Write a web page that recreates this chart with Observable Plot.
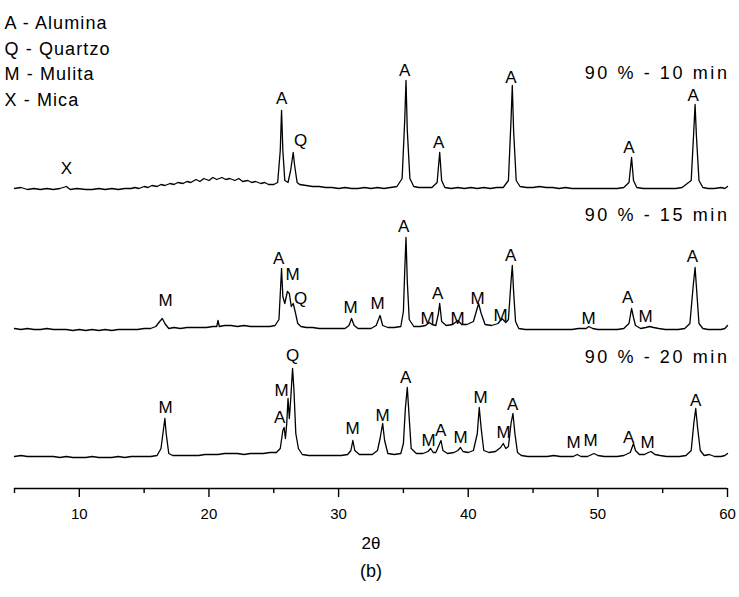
<!DOCTYPE html>
<html>
<head>
<meta charset="utf-8">
<script src="https://cdn.jsdelivr.net/npm/d3@7"></script>
<script src="https://cdn.jsdelivr.net/npm/@observablehq/plot@0.6"></script>
<style>
  html, body { margin: 0; padding: 0; background: #fff; }
  #chart svg { font-family: "Liberation Sans", Arial, sans-serif; }
</style>
</head>
<body>
<div id="chart"></div>
<script>
// ---- data ----
const seriesNames = ["90 % - 10 min", "90 % - 15 min", "90 % - 20 min"];
const seriesOffsets = [298, 157, 30];
const seriesLabelHeights = [117, 116, 101];
const legendLines = ["A - Alumina", "Q - Quartzo", "M - Mulita", "X - Mica"];
const xTicks = [10, 20, 30, 40, 50, 60];
const xMinorTicks = [5, 15, 25, 35, 45, 55];

// [2theta, intensity above own baseline]
const trace10 = [
  [5.0,2],[5.5,3],[6.0,1],[6.5,2],[7.0,1],[7.5,2],[8.0,1],[8.5,2],[9.0,4],[9.3,1],[9.8,2],[10.5,1],
  [11,1],[11.5,2],[12,1],[12.5,2],[13,1],[13.5,2],[14,2],[14.3,3],[14.6,2],[15,4],[15.3,3],[15.6,5],
  [16,4],[16.3,6],[16.6,5],[17,7],[17.3,6],[17.6,8],[18,7],[18.3,9],[18.6,8],[19,11],[19.3,9],[19.6,12],
  [20,10],[20.3,13],[20.6,11],[21,13],[21.3,11],[21.6,12],[22,10],[22.3,12],[22.6,9],[23,10],[23.3,8],
  [23.6,9],[24,7],[24.3,8],[24.6,6],[25,6],[25.3,8],[25.5,40],[25.6,80],[25.7,40],[25.85,10],
  [26.1,8],[26.3,20],[26.5,38],[26.6,26],[26.8,8],[27,6],[27.5,5],[28,4],[28.5,4],[29,3],[29.5,3],
  [30,2],[30.5,3],[31,2],[31.5,2],[32,3],[32.5,2],[33,3],[33.5,2],[34,3],[34.5,4],[34.9,12],[35.1,70],
  [35.2,110],[35.3,60],[35.5,12],[35.8,4],[36.2,3],[36.7,3],[37.2,3],[37.6,8],[37.8,38],[37.95,10],
  [38.2,3],[38.7,2],[39.2,3],[39.7,2],[40.2,3],[40.7,2],[41.2,3],[41.7,2],[42.2,3],[42.7,3],[43.1,10],
  [43.3,70],[43.4,105],[43.5,60],[43.7,10],[44,4],[44.5,3],[45,3],[45.5,4],[46,3],[46.5,3],[47,2],
  [47.5,3],[48,2],[48.5,2],[49,2],[49.5,2],[50,2],[50.5,2],[51,2],[51.5,2],[52,3],[52.4,8],[52.6,33],
  [52.75,10],[53,3],[53.5,2],[54,2],[54.5,2],[55,2],[55.5,2],[56,2],[56.5,3],[57.2,10],[57.4,60],
  [57.5,86],[57.6,55],[57.8,10],[58.1,3],[58.5,2],[59,2],[59.5,3],[59.8,2],[60,4]
];
const trace15 = [
  [5,3],[5.5,2],[6,3],[6.5,2],[7,2],[7.5,3],[8,2],[8.5,2],[9,2],[9.5,1],[10,2],[10.5,1],[11,2],
  [11.5,1],[12,2],[12.5,1],[13,2],[13.5,2],[14,2],[14.5,2],[15,3],[15.5,3],[15.9,5],[16.2,10],
  [16.4,13],[16.6,8],[16.9,3],[17.3,4],[17.8,3],[18.3,4],[18.8,4],[19.3,4],[19.8,4],[20.3,5],[20.6,5],
  [20.7,11],[20.8,5],[21.2,6],[21.7,6],[22.2,5],[22.7,6],[23.2,5],[23.7,5],[24.2,5],[24.7,5],[25.1,6],
  [25.4,12],[25.55,50],[25.6,63],[25.7,35],[25.85,28],[26.05,40],[26.2,38],[26.35,25],[26.5,28],
  [26.65,20],[26.85,8],[27.1,5],[27.5,4],[28,4],[28.5,3],[29,3],[29.5,3],[30,3],[30.5,3],[30.8,6],
  [31.0,13],[31.2,6],[31.5,3],[32,3],[32.5,3],[32.9,6],[33.2,16],[33.4,6],[33.8,4],[34.3,4],[34.8,5],
  [35.0,20],[35.1,60],[35.2,94],[35.3,50],[35.45,12],[35.8,5],[36.3,5],[36.7,6],[37.0,9],[37.2,7],
  [37.5,6],[37.7,18],[37.8,28],[37.95,10],[38.3,6],[38.8,7],[39.2,11],[39.5,7],[39.9,7],[40.4,10],
  [40.8,28],[41.0,18],[41.3,7],[41.8,6],[42.3,8],[42.6,13],[42.9,9],[43.1,12],[43.3,50],[43.4,66],
  [43.5,40],[43.65,10],[43.9,3],[44.4,2],[45,2],[45.5,2],[46,2],[46.5,2],[47,2],[47.5,2],[48,2],
  [48.5,3],[49.1,3],[49.3,5],[49.6,3],[50,2],[50.5,2],[51,2],[51.5,2],[52,3],[52.4,8],[52.6,23],
  [52.75,14],[52.9,6],[53.3,3],[53.7,4],[54,5],[54.3,4],[54.7,3],[55.2,2],[55.7,2],[56.2,2],[56.7,3],
  [57.1,8],[57.35,45],[57.5,64],[57.6,45],[57.8,8],[58.1,3],[58.5,2],[59,2],[59.5,2],[59.8,3],[60,6]
];
const trace20 = [
  [5,2],[5.5,3],[6,2],[6.5,2],[7,2],[7.5,2],[8,2],[8.5,1],[9,2],[9.5,1],[10,1],[10.5,1],[11,2],
  [11.5,1],[12,1],[12.5,1],[13,2],[13.5,1],[14,2],[14.5,2],[15,2],[15.5,2],[16,3],[16.3,10],[16.5,30],
  [16.6,40],[16.7,25],[16.9,5],[17.2,3],[17.7,3],[18.2,3],[18.7,3],[19.2,3],[19.7,4],[20.2,4],[20.7,4],
  [21.2,5],[21.7,5],[22.2,5],[22.7,4],[23.2,5],[23.7,5],[24.2,5],[24.7,6],[25.2,6],[25.5,10],[25.7,28],
  [25.8,31],[25.9,20],[26.0,35],[26.1,60],[26.2,40],[26.3,58],[26.45,90],[26.55,70],[26.7,25],[26.9,10],
  [27.2,4],[27.7,3],[28.2,3],[28.7,3],[29.2,3],[29.7,3],[30.2,3],[30.7,4],[30.95,8],[31.1,18],[31.25,8],
  [31.6,4],[32.1,4],[32.6,4],[33.0,8],[33.2,20],[33.4,35],[33.55,18],[33.8,5],[34.3,4],[34.8,5],[35.0,15],
  [35.15,50],[35.3,71],[35.45,40],[35.6,10],[36.0,5],[36.5,5],[36.9,7],[37.1,10],[37.3,6],[37.5,6],
  [37.7,12],[37.9,18],[38.05,8],[38.4,5],[38.9,6],[39.2,8],[39.4,11],[39.6,7],[40.0,6],[40.4,8],[40.7,25],
  [40.85,51],[41.0,30],[41.2,8],[41.6,6],[42.1,7],[42.5,11],[42.7,15],[42.9,10],[43.1,12],[43.3,35],
  [43.45,45],[43.6,25],[43.8,6],[44.1,3],[44.6,2],[45.1,2],[45.6,2],[46.1,2],[46.6,3],[47.1,2],[47.6,2],
  [48.1,2],[48.4,4],[48.7,2],[49.2,2],[49.7,5],[50.0,3],[50.5,2],[51,2],[51.5,2],[52,3],[52.5,6],
  [52.75,15],[52.9,8],[53.2,4],[53.6,4],[53.9,6],[54.1,7],[54.4,4],[54.8,3],[55.3,2],[55.8,2],[56.3,2],
  [56.8,3],[57.2,8],[57.4,35],[57.55,50],[57.7,30],[57.9,8],[58.2,3],[58.6,4],[59,2],[59.5,2],[59.8,3],[60,5]
];

// peak labels: [2theta, height above own baseline, phase]
const labels10 = [
  [9.0,22,"X"],[25.6,92,"A"],[27.07,50,"Q"],[35.1,120,"A"],[37.72,48,"A"],[43.3,113,"A"],
  [52.4,43,"A"],[57.35,95,"A"]
];
const labels15 = [
  [16.65,31,"M"],[25.37,73,"A"],[26.45,57,"M"],[27.07,33,"Q"],[30.93,24,"M"],[33.01,28,"M"],
  [35.02,105,"A"],[36.87,13,"M"],[37.64,38,"A"],[39.18,13,"M"],[40.73,33,"M"],[42.5,16,"M"],
  [43.27,76,"A"],[49.29,13,"M"],[52.3,34,"A"],[53.69,15,"M"],[57.3,75,"A"]
];
const labels20 = [
  [16.65,51,"M"],[25.6,68,"M"],[25.45,41,"A"],[26.45,103,"Q"],[31.08,30,"M"],[33.4,43,"M"],
  [35.17,81,"A"],[36.94,18,"M"],[37.87,28,"A"],[39.41,21,"M"],[40.96,61,"M"],[42.73,26,"M"],
  [43.43,54,"A"],[48.13,16,"M"],[49.44,18,"M"],[52.38,21,"A"],[53.84,16,"M"],[57.55,58,"A"]
];

// ---- build tables ----
const traces = [trace10, trace15, trace20];
const labelSets = [labels10, labels15, labels20];
const lineRows = traces.flatMap((t, i) => t.map(([x, h]) => ({x, y: h + seriesOffsets[i], s: seriesNames[i]})));
const labelRows = labelSets.flatMap((t, i) => t.map(([x, h, p]) => ({x, y: h + seriesOffsets[i], p})));
const seriesRows = seriesNames.map((s, i) => ({x: 60, y: seriesLabelHeights[i] + seriesOffsets[i], s}));

const font = "Liberation Sans, Arial, sans-serif";
const chart = Plot.plot({
  width: 739,
  height: 597,
  marginTop: 0,
  marginBottom: 109,
  marginLeft: 14,
  marginRight: 12,
  style: {fontFamily: font, background: "#fff", color: "#000", overflow: "visible"},
  x: {domain: [5, 60]},
  y: {domain: [0, 488], axis: null},
  marks: [
    Plot.ruleY([0], {stroke: "#000", strokeWidth: 1.6}),
    Plot.axisX({ticks: xTicks, tickSize: 9, tickPadding: 11, fontSize: 15, label: null, stroke: "#000", strokeWidth: 1.4}),
    Plot.axisX({ticks: xMinorTicks, tickSize: 5, tickFormat: () => "", label: null, stroke: "#000", strokeWidth: 1.4}),
    Plot.line(lineRows, {x: "x", y: "y", z: "s", stroke: "#000", strokeWidth: 1.3, curve: "linear"}),
    Plot.text(labelRows, {x: "x", y: "y", text: "p", fontSize: 17, fill: "#000", lineAnchor: "middle"}),
    Plot.text(seriesRows, {x: "x", y: "y", text: "s", fontSize: 18, fill: "#000", textAnchor: "end", dx: 2}),
    Plot.text([legendLines.join("\n")], {frameAnchor: "top-left", textAnchor: "start", lineAnchor: "top", dx: -10, dy: 10, lineHeight: 1.43, fontSize: 18, fill: "#000"}),
    Plot.text(["2θ"], {frameAnchor: "bottom", dy: 60, fontSize: 17, fill: "#000"}),
    Plot.text(["(b)"], {frameAnchor: "bottom", dy: 88, fontSize: 18, fill: "#000"})
  ]
});
// widen the spacing of the header texts to match the reference lettering
d3.select(chart).selectAll("text").each(function () {
  const t = this.textContent;
  if (seriesNames.includes(t)) this.setAttribute("letter-spacing", "2.6");
});
d3.select(chart).selectAll("tspan").each(function () {
  if (legendLines.includes(this.textContent)) this.setAttribute("letter-spacing", "1.1");
});
document.getElementById("chart").appendChild(chart);
</script>
</body>
</html>
